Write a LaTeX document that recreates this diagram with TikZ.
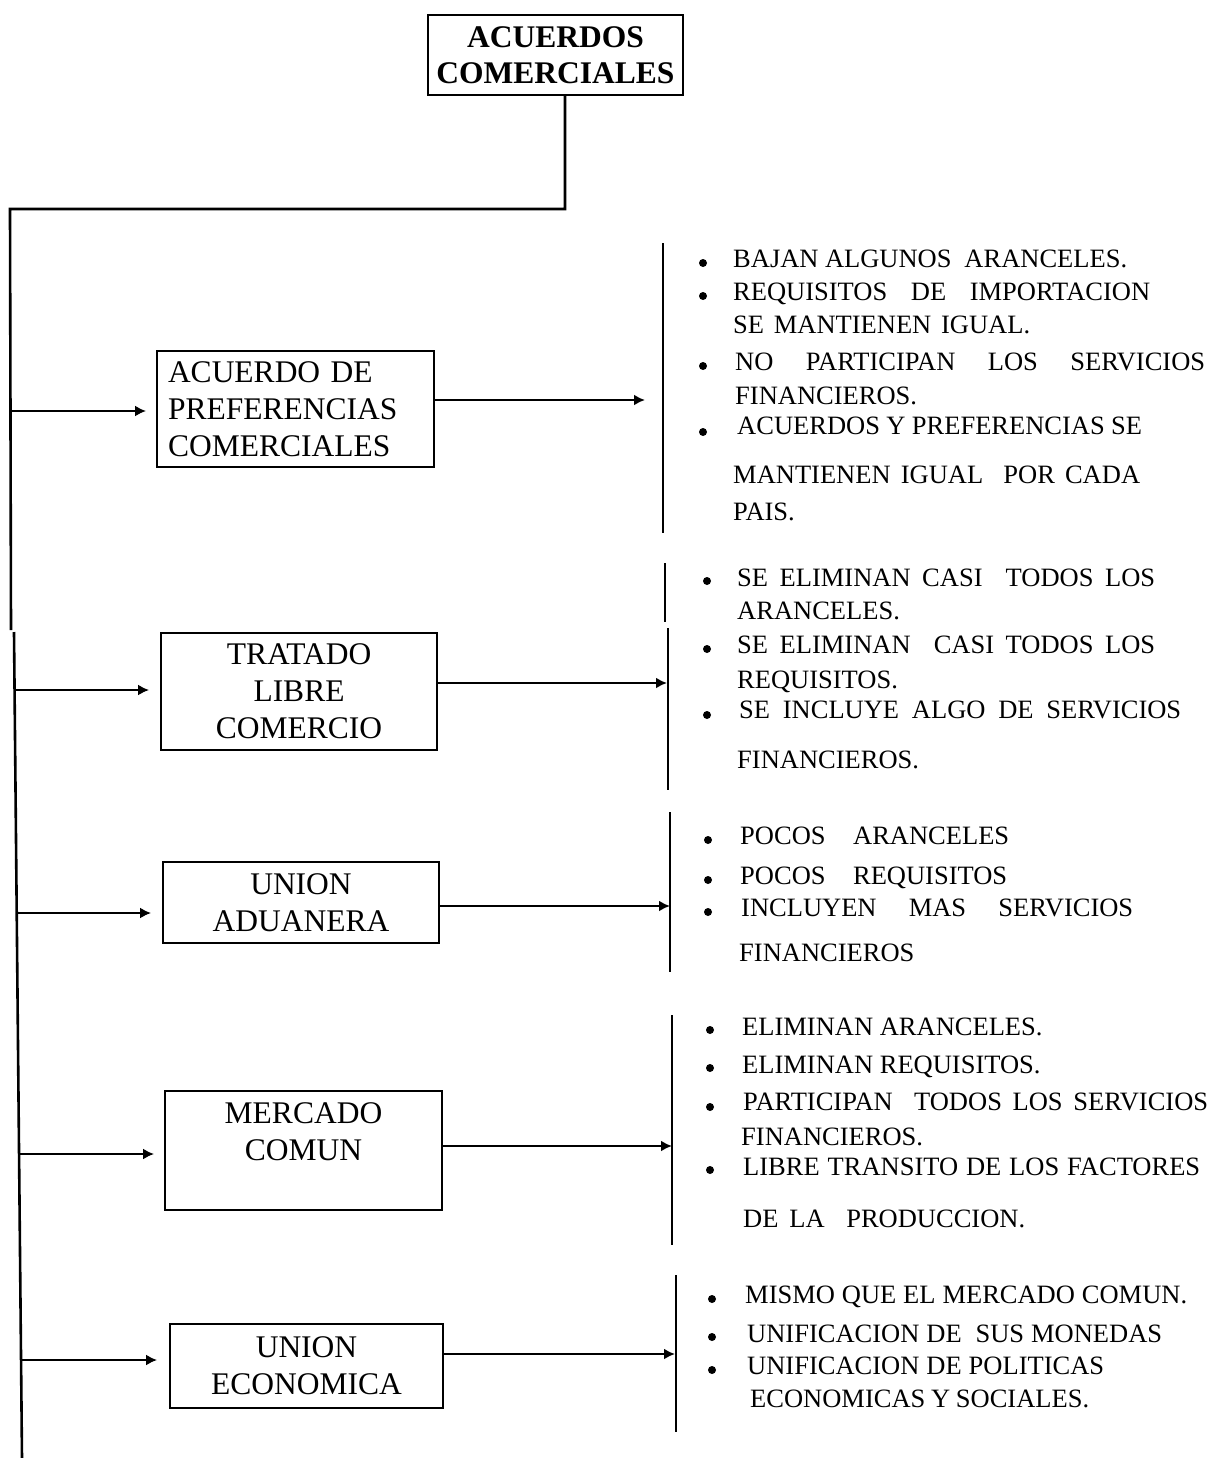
\documentclass[tikz,border=0pt]{standalone}
\usepackage{fontspec}
\setmainfont{Liberation Serif}
\usetikzlibrary{arrows.meta}
% a line of text stretched to a given width (in pt)
\newcommand{\jl}[2]{\makebox[#1pt][s]{#2}}

\begin{document}
\begin{tikzpicture}[x=1pt,y=-1pt,
  titlebox/.style={draw, line width=1.8pt, inner sep=0pt, align=center,
    minimum width=255pt, minimum height=80pt,
    font=\fontsize{31.5}{36}\selectfont\bfseries},
  kindbox/.style={draw, line width=1.8pt, inner sep=0pt, align=center,
    font=\fontsize{31.5}{37}\selectfont},
  btxt/.style={anchor=base west, inner sep=0pt, font=\fontsize{26.5}{30}\selectfont},
  arr/.style={-{Latex[length=11pt,width=11pt]}, line width=2.5pt},
  bar/.style={line width=2.6pt},
  bul/.style={fill=black}
]
\useasboundingbox (0,0) rectangle (1213,1458);

% ---------- title ----------
\node[titlebox] (title) at (555.5,55) {ACUERDOS\\COMERCIALES};

% ---------- kinds of agreement ----------
\node[kindbox, minimum width=277pt, minimum height=116pt, text width=255pt, align=left]
  (b1) at (295.5,409) {ACUERDO DE\\PREFERENCIAS\\COMERCIALES};
\node[kindbox, minimum width=276pt, minimum height=117pt]
  (b2) at (299,691.5) {TRATADO\\LIBRE\\COMERCIO};
\node[kindbox, minimum width=276pt, minimum height=81pt]
  (b3) at (301,902.5) {UNION\\ADUANERA};
\node[kindbox, minimum width=277pt, minimum height=119pt]
  (b4) at (303.5,1150.5) {MERCADO\\COMUN\\\mbox{}};
\node[kindbox, minimum width=273pt, minimum height=84pt]
  (b5) at (306.5,1366) {UNION\\ECONOMICA};

% ---------- trunk ----------
\coordinate (k1) at (565,209);
\coordinate (k2) at (10,209);
\coordinate (k3) at (11,630);
\coordinate (k4) at (14,632);
\coordinate (k5) at (22,1458);
\draw[bar] (title.south -| k1) -- (k1) -- (k2) -- (k3);
\draw[bar] (k4) -- (k5);

% ---------- arrows into the boxes ----------
\coordinate (s1) at (10.5,411);
\coordinate (s2) at (14.6,690);
\coordinate (s3) at (16.7,913);
\coordinate (s4) at (19,1154);
\coordinate (s5) at (21,1360);
\draw[arr, shorten >=10pt] (s1) -- (s1 -| b1.west);
\draw[arr, shorten >=11pt] (s2) -- (s2 -| b2.west);
\draw[arr, shorten >=11pt] (s3) -- (s3 -| b3.west);
\draw[arr, shorten >=10pt] (s4) -- (s4 -| b4.west);
\draw[arr, shorten >=12pt] (s5) -- (s5 -| b5.west);

% ---------- brackets on the right ----------
\coordinate (r1a) at (663,243);  \coordinate (r1b) at (663,533);
\coordinate (r2a) at (665,563);  \coordinate (r2b) at (665,622);
\coordinate (r2c) at (668,628);  \coordinate (r2d) at (668,790);
\coordinate (r3a) at (670,812);  \coordinate (r3b) at (670,972);
\coordinate (r4a) at (672,1015); \coordinate (r4b) at (672,1245);
\coordinate (r5a) at (676,1275); \coordinate (r5b) at (676,1432);
\draw[bar] (r1a) -- (r1b);
\draw[bar] (r2a) -- (r2b);
\draw[bar] (r2c) -- (r2d);
\draw[bar] (r3a) -- (r3b);
\draw[bar] (r4a) -- (r4b);
\draw[bar] (r5a) -- (r5b);

% ---------- arrows out of the boxes ----------
\coordinate (e1) at (645,400);
\coordinate (e2) at (667,683);
\coordinate (e3) at (670,906);
\coordinate (e4) at (672,1146);
\coordinate (e5) at (675,1354);
\draw[arr] (e1 -| b1.east) -- (e1);
\draw[arr] (e2 -| b2.east) -- (e2);
\draw[arr] (e3 -| b3.east) -- (e3);
\draw[arr] (e4 -| b4.east) -- (e4);
\draw[arr] (e5 -| b5.east) -- (e5);

% ---------- features: preferencias comerciales ----------
\node[btxt] (p1) at (733,267) {\jl{394}{BAJAN ALGUNOS \ ARANCELES.}};
\node[btxt] (p2) at (733,300) {\jl{417}{REQUISITOS DE IMPORTACION}};
\node[btxt] (p3) at (733,333) {\jl{297}{SE MANTIENEN IGUAL.}};
\node[btxt] (p4) at (735,370) {\jl{470}{NO PARTICIPAN LOS SERVICIOS}};
\node[btxt] (p5) at (735,404) {FINANCIEROS.};
\node[btxt] (p6) at (737,434) {\jl{405}{ACUERDOS Y PREFERENCIAS SE}};
\node[btxt] (p7) at (733,483) {\jl{407}{MANTIENEN IGUAL \ POR CADA}};
\node[btxt] (p8) at (733,520) {PAIS.};
\fill[bul] (703,263) circle[radius=4pt];
\fill[bul] (703,296) circle[radius=4pt];
\fill[bul] (703,366) circle[radius=4pt];
\fill[bul] (703,432) circle[radius=4pt];

% ---------- features: tratado libre comercio ----------
\node[btxt] (t1) at (737,586) {\jl{418}{SE ELIMINAN CASI \ TODOS LOS}};
\node[btxt] (t2) at (737,619) {ARANCELES.};
\node[btxt] (t3) at (737,653) {\jl{418}{SE ELIMINAN \ CASI TODOS LOS}};
\node[btxt] (t4) at (737,688) {REQUISITOS.};
\node[btxt] (t5) at (739,718) {\jl{442}{SE INCLUYE ALGO DE SERVICIOS}};
\node[btxt] (t6) at (737,768) {FINANCIEROS.};
\fill[bul] (707,581) circle[radius=4pt];
\fill[bul] (707,649) circle[radius=4pt];
\fill[bul] (707,715) circle[radius=4pt];

% ---------- features: union aduanera ----------
\node[btxt] (u1) at (740,844) {\jl{269}{POCOS ARANCELES}};
\node[btxt] (u2) at (740,884) {\jl{267}{POCOS REQUISITOS}};
\node[btxt] (u3) at (741,916) {\jl{392}{INCLUYEN MAS SERVICIOS}};
\node[btxt] (u4) at (739,961) {FINANCIEROS};
\fill[bul] (708,840) circle[radius=4pt];
\fill[bul] (708,880) circle[radius=4pt];
\fill[bul] (708,912) circle[radius=4pt];

% ---------- features: mercado comun ----------
\node[btxt] (m1) at (742,1035) {ELIMINAN ARANCELES.};
\node[btxt] (m2) at (742,1073) {ELIMINAN REQUISITOS.};
\node[btxt] (m3) at (743,1110) {\jl{465}{PARTICIPAN \ TODOS LOS SERVICIOS}};
\node[btxt] (m4) at (741,1145) {FINANCIEROS.};
\node[btxt] (m5) at (743,1175) {\jl{457}{LIBRE TRANSITO DE LOS FACTORES}};
\node[btxt] (m6) at (743,1227) {\jl{282}{DE LA \ PRODUCCION.}};
\fill[bul] (710,1030) circle[radius=4pt];
\fill[bul] (710,1068) circle[radius=4pt];
\fill[bul] (710,1107) circle[radius=4pt];
\fill[bul] (710,1170) circle[radius=4pt];

% ---------- features: union economica ----------
\node[btxt] (n1) at (745,1303) {\jl{442}{MISMO QUE EL MERCADO COMUN.}};
\node[btxt] (n2) at (747,1342) {\jl{415}{UNIFICACION DE \ SUS MONEDAS}};
\node[btxt] (n3) at (747,1374) {\jl{357}{UNIFICACION DE POLITICAS}};
\node[btxt] (n4) at (750,1407) {\jl{339}{ECONOMICAS Y SOCIALES.}};
\fill[bul] (712,1299) circle[radius=4pt];
\fill[bul] (712,1337) circle[radius=4pt];
\fill[bul] (712,1370) circle[radius=4pt];
\end{tikzpicture}
\end{document}
